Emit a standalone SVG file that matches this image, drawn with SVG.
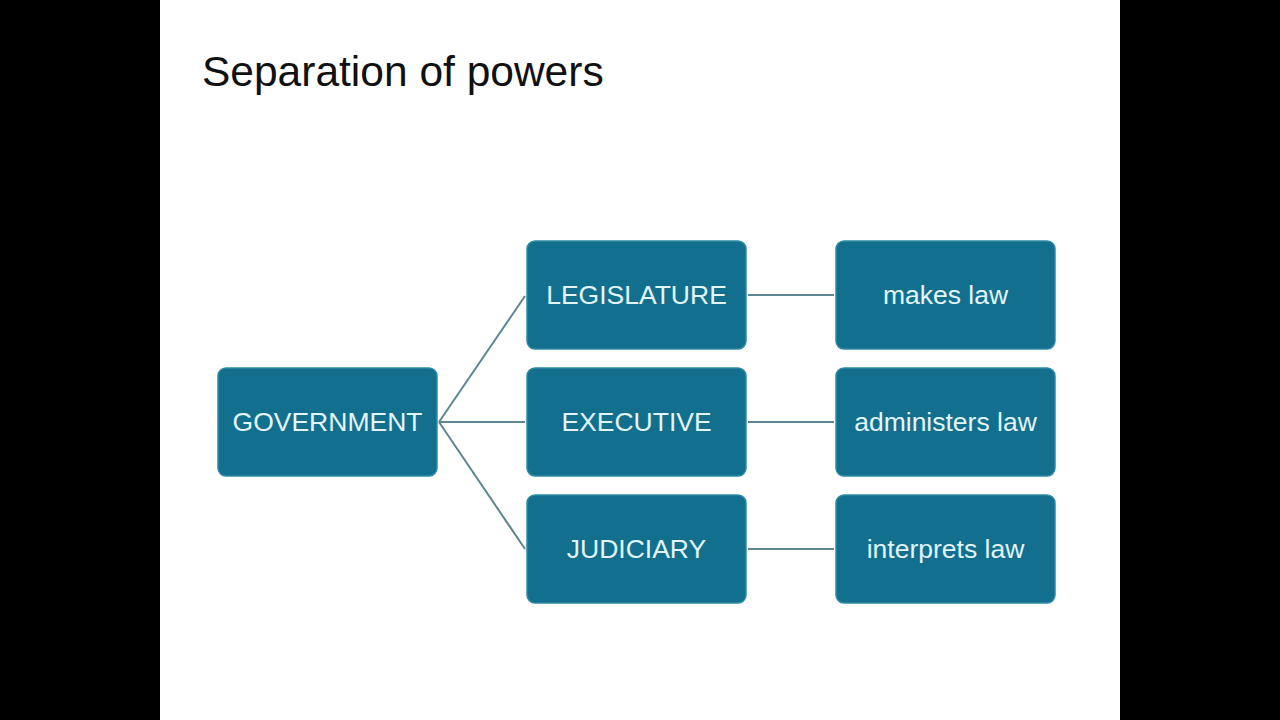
<svg xmlns="http://www.w3.org/2000/svg" width="1280" height="720" viewBox="0 0 1280 720">
<style>
.box{fill:#126f8d;stroke:#2f8aa6;stroke-width:1.5}
.lbl{font-family:"Liberation Sans",Arial,sans-serif;font-size:26.5px;fill:#e2f5fb;text-anchor:middle;dominant-baseline:central}
.con{stroke:#5e8592;stroke-width:2;fill:none}
</style>
<rect x="0" y="0" width="1280" height="720" fill="#000"/>
<rect x="160" y="0" width="960" height="720" fill="#fff"/>
<text x="202" y="86" font-family="'Liberation Sans',Arial,sans-serif" font-size="42.5" fill="#111">Separation of powers</text>
<g id="connectors">
<line class="con" x1="439" y1="422" x2="525" y2="296"/>
<line class="con" x1="439" y1="422" x2="525" y2="422"/>
<line class="con" x1="439" y1="422" x2="525" y2="549"/>
<line class="con" x1="748" y1="295" x2="834" y2="295"/>
<line class="con" x1="748" y1="422" x2="834" y2="422"/>
<line class="con" x1="748" y1="549" x2="834" y2="549"/>
</g>
<g id="government"><rect class="box" x="218" y="368" width="219" height="108" rx="8"/><text class="lbl" x="327.5" y="422">GOVERNMENT</text></g>
<g id="legislature"><rect class="box" x="527" y="241" width="219" height="108" rx="8"/><text class="lbl" x="636.5" y="295">LEGISLATURE</text></g>
<g id="executive"><rect class="box" x="527" y="368" width="219" height="108" rx="8"/><text class="lbl" x="636.5" y="422">EXECUTIVE</text></g>
<g id="judiciary"><rect class="box" x="527" y="495" width="219" height="108" rx="8"/><text class="lbl" x="636.5" y="549">JUDICIARY</text></g>
<g id="makes"><rect class="box" x="836" y="241" width="219" height="108" rx="8"/><text class="lbl" x="945.5" y="295">makes law</text></g>
<g id="administers"><rect class="box" x="836" y="368" width="219" height="108" rx="8"/><text class="lbl" x="945.5" y="422">administers law</text></g>
<g id="interprets"><rect class="box" x="836" y="495" width="219" height="108" rx="8"/><text class="lbl" x="945.5" y="549">interprets law</text></g>
</svg>
